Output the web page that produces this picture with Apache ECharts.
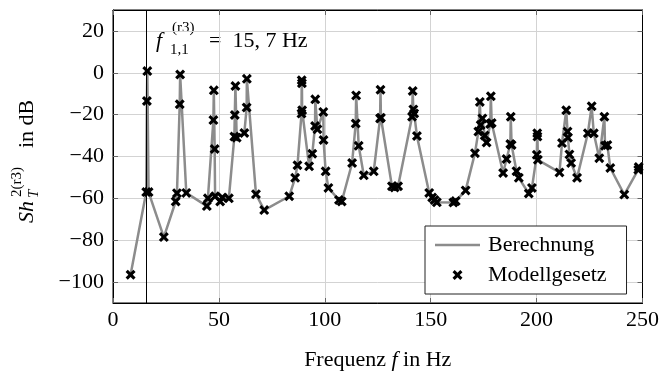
<!DOCTYPE html>
<html>
<head>
<meta charset="utf-8">
<script src="https://cdn.jsdelivr.net/npm/echarts@6/dist/echarts.min.js"></script>
<style>
  html, body { margin: 0; padding: 0; background: #fff; }
  #chart { width: 662px; height: 376px; }
</style>
</head>
<body>
<div id="chart"></div>
<script>
// Frequenz in Hz und Pegel in dB
const freq = [8.3, 15.7, 16.0, 16.2, 16.8, 24.0, 29.6, 30.2, 31.5, 31.7,
  34.6, 44.3, 44.8, 47.4, 47.6, 48.0, 48.2, 50.6, 51.6, 54.7,
  57.3, 57.5, 57.8, 58.4, 62.0, 63.1, 63.2, 67.5, 71.4, 83.2,
  86.0, 87.1, 89.0, 89.1, 89.2, 89.3, 92.6, 94.1, 95.4, 95.5,
  96.5, 99.3, 99.4, 100.4, 101.7, 106.7, 108.0, 112.9, 114.6, 114.8,
  116.0, 118.4, 123.1, 126.1, 126.3, 126.5, 131.7, 133.0, 134.6, 141.2,
  141.5, 141.8, 142.2, 143.5, 149.3, 150.7, 151.8, 152.9, 160.7, 161.8,
  166.5, 170.9, 172.5, 173.2, 173.6, 174.4, 175.5, 176.4, 178.1, 178.4,
  178.8, 184.2, 185.8, 187.6, 187.8, 188.2, 190.5, 191.6, 196.3, 197.8,
  200.1, 200.3, 200.4, 200.6, 210.8, 212.0, 214.0, 214.6, 214.8, 215.5,
  216.3, 219.1, 224.2, 226.0, 227.0, 229.6, 232.0, 232.3, 233.4, 234.8,
  241.4, 248.0, 248.2]
const level = [-96.5, -57, -13.5, 0.8, -57, -78.5, -61.5, -57.5, -15, -0.8,
  -57.4, -63.7, -60, -22.6, -8.4, -36.4, -59, -61.5, -59.6, -60,
  -30.5, -20.2, -6.3, -31, -28.8, -16.6, -2.9, -58, -65.6, -59,
  -50.2, -44.2, -19.5, -3.6, -5, -17.9, -44.7, -38.7, -25.4, -12.7,
  -27, -18.7, -32.1, -47.1, -55, -60.8, -61.5, -43.1, -24.2, -10.8,
  -34.9, -49, -47.1, -21.8, -8.1, -21.5, -54.2, -54.8, -54.2, -21,
  -8.7, -17.5, -19.4, -30.2, -57.4, -59.6, -60.8, -61.9, -62, -61.3,
  -56.2, -38.4, -28.1, -13.9, -25, -21.8, -30, -33.3, -24.5, -11.2,
  -24, -47.9, -41.2, -34, -21, -34.5, -47, -50.2, -57.7, -55,
  -39.2, -28.9, -30.5, -41.6, -47.6, -33.6, -17.9, -28.1, -31, -39,
  -43.1, -50.2, -28.9, -16, -28.9, -40.8, -21, -34.9, -34.5, -45.5,
  -58.2, -46.3, -45]
// Berechnung läuft bis zum rechten Rand weiter
const curveFreq = freq.concat([250])
const curveLevel = level.concat([-43])

const yTicks = [-100, -80, -60, -40, -20, 0, 20]
const f11 = 15.7

const FONT = '"Liberation Serif", "DejaVu Serif", serif'
const crossPath = 'path://M0,2.2 L2.2,0 L5,2.8 L7.8,0 L10,2.2 L7.2,5 L10,7.8 L7.8,10 L5,7.2 L2.2,10 L0,7.8 L2.8,5 Z'
const lineIcon = 'path://M0,0 L45,0 L45,2.5 L0,2.5 Z'

const chart = echarts.init(document.getElementById('chart'))

const fmtMinus = v => String(v).replace('-', '\u2212')

const tickStyle = { show: true, inside: true, length: 5, lineStyle: { color: '#666', width: 1 } }

const option = {
  animation: false,
  backgroundColor: '#fff',
  grid: { left: 113, right: 17, top: 10, bottom: 72, show: true, borderColor: '#000', borderWidth: 1 },
  xAxis: [
    {
      type: 'value', min: 0, max: 250, interval: 50,
      axisLine: { show: true, onZero: false, lineStyle: { color: '#000', width: 1 } },
      axisTick: tickStyle,
      splitLine: { show: true, lineStyle: { color: '#d3d3d3', width: 1 } },
      axisLabel: { color: '#000', fontFamily: FONT, fontSize: 22, margin: 6 },
      name: '{a|Frequenz }{b|f}{a| in Hz}',
      nameLocation: 'middle', nameGap: 46,
      nameTextStyle: {
        rich: {
          a: { fontFamily: FONT, fontSize: 22, color: '#000' },
          b: { fontFamily: FONT, fontSize: 22, fontStyle: 'italic', color: '#000' }
        }
      }
    },
    {
      type: 'value', position: 'top', min: 0, max: 250, interval: 50,
      axisLine: { show: true, onZero: false, lineStyle: { color: '#000' } },
      axisTick: tickStyle, axisLabel: { show: false }, splitLine: { show: false }
    }
  ],
  yAxis: [
    {
      type: 'value', min: -110, max: 30,
      axisLine: { show: true, onZero: false, lineStyle: { color: '#000', width: 1 } },
      axisTick: Object.assign({ customValues: yTicks }, tickStyle),
      splitLine: { show: true, lineStyle: { color: '#d3d3d3', width: 1 } },
      axisLabel: { customValues: yTicks, color: '#000', fontFamily: FONT, fontSize: 22, margin: 9, formatter: fmtMinus }
    },
    {
      type: 'value', position: 'right', min: -110, max: 30,
      axisLine: { show: true, onZero: false, lineStyle: { color: '#000' } },
      axisTick: Object.assign({ customValues: yTicks }, tickStyle),
      axisLabel: { show: false }, splitLine: { show: false }
    }
  ],
  legend: {
    left: 425, top: 226, orient: 'vertical',
    backgroundColor: '#fff', borderColor: '#222', borderWidth: 1, borderRadius: 0,
    padding: [8, 20, 8, 10], itemGap: 8, itemWidth: 45, itemHeight: 10,
    textStyle: { fontFamily: FONT, fontSize: 22, color: '#000', lineHeight: 22, padding: [0, 0, 0, 3] },
    data: [
      { name: 'Berechnung', icon: lineIcon },
      { name: 'Modellgesetz' }
    ]
  },
  series: [
    {
      name: 'Berechnung', type: 'line',
      data: curveFreq.map((f, i) => [f, curveLevel[i]]),
      symbol: 'none', clip: true,
      lineStyle: { color: '#8c8c8c', width: 2.5 },
      itemStyle: { color: '#8c8c8c' },
      markLine: {
        silent: true, symbol: 'none', label: { show: false },
        lineStyle: { color: '#000', width: 1, type: 'solid' },
        data: [{ xAxis: f11 }]
      },
      z: 2
    },
    {
      name: 'Modellgesetz', type: 'scatter',
      data: freq.map((f, i) => [f, level[i]]),
      symbol: crossPath, symbolSize: 10,
      itemStyle: { color: '#000', opacity: 1 },
      z: 3
    }
  ],
  graphic: [
    // Annotation f_{1,1}^{(r3)} = 15,7 Hz
    { type: 'text', left: 156, top: 30, style: { text: 'f', font: 'italic 22px ' + FONT, fill: '#000' } },
    { type: 'text', left: 172, top: 21, style: { text: '(r3)', font: '15px ' + FONT, fill: '#000' } },
    { type: 'text', left: 170, top: 43, style: { text: '1,1', font: '15px ' + FONT, fill: '#000' } },
    { type: 'text', left: 209, top: 30, style: { text: '=  15, 7 Hz', font: '22px ' + FONT, fill: '#000' } },
    // y-Achsentitel Sh_T^{2(r3)} in dB
    { type: 'text', x: 27, y: 223, rotation: Math.PI / 2, style: { text: 'Sh', font: 'italic 22px ' + FONT, fill: '#000', align: 'left', verticalAlign: 'middle' } },
    { type: 'text', x: 34, y: 198, rotation: Math.PI / 2, style: { text: 'T', font: 'italic 15px ' + FONT, fill: '#000', align: 'left', verticalAlign: 'middle' } },
    { type: 'text', x: 17, y: 197, rotation: Math.PI / 2, style: { text: '2(r3)', font: '15px ' + FONT, fill: '#000', align: 'left', verticalAlign: 'middle' } },
    { type: 'text', x: 27, y: 148, rotation: Math.PI / 2, style: { text: 'in dB', font: '22px ' + FONT, fill: '#000', align: 'left', verticalAlign: 'middle' } }
  ]
}

chart.setOption(option)
</script>
</body>
</html>
